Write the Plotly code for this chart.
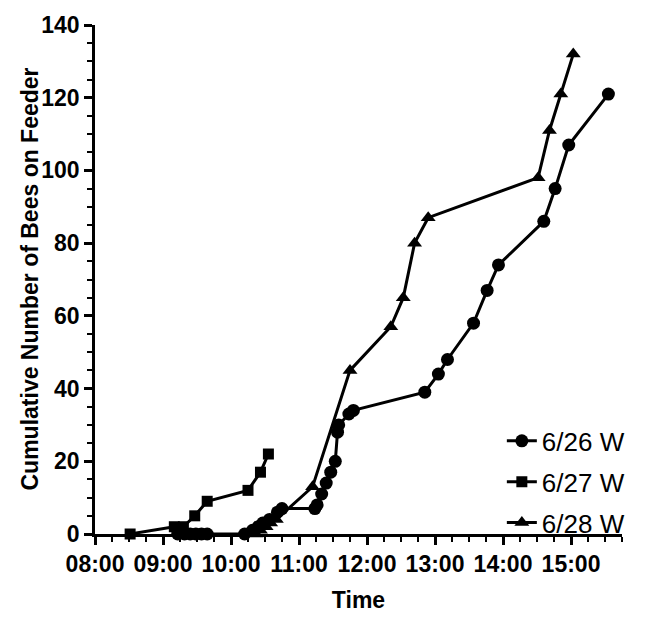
import plotly.graph_objects as go

# ---- data (time of day, cumulative bees) ----
t_0626 = ["09:13", "09:19", "09:24", "09:29", "09:34", "09:39",
          "10:12", "10:19", "10:24", "10:28", "10:34", "10:41", "10:45",
          "11:14", "11:16", "11:20", "11:24", "11:28", "11:32", "11:34", "11:35",
          "11:44", "11:48", "12:51", "13:03", "13:11", "13:34", "13:46", "13:56",
          "14:36", "14:46", "14:58", "15:33"]
v_0626 = [0, 0, 0, 0, 0, 0,
          0, 1, 2, 3, 4, 6, 7,
          7, 8, 11, 14, 17, 20, 28, 30,
          33, 34, 39, 44, 48, 58, 67, 74,
          86, 95, 107, 121]

t_0627 = ["08:31", "09:10", "09:18", "09:28", "09:39", "10:15", "10:26", "10:33"]
v_0627 = [0, 2, 2, 5, 9, 12, 17, 22]

t_0628 = ["10:22", "10:26", "10:31", "10:35", "10:40", "11:12", "11:45", "12:21",
          "12:32", "12:42", "12:54", "14:31", "14:41", "14:51", "15:02"]
v_0628 = [0, 1, 2, 3, 4, 13, 45, 57, 65, 80, 87, 98, 111, 121, 132]

series_names = ["6/26 W", "6/27 W", "6/28 W"]
tick_hours = [8, 9, 10, 11, 12, 13, 14, 15]
tick_labels = ["08:00", "09:00", "10:00", "11:00", "12:00", "13:00", "14:00", "15:00"]


def to_hours(t):
    h, m = t.split(":")
    return int(h) + int(m) / 60.0


FONT = "Liberation Sans, Arial, sans-serif"

fig = go.Figure()
specs = [
    (t_0626, v_0626, "circle", 13),
    (t_0627, v_0627, "square", 11),
    (t_0628, v_0628, "triangle-up", 13),
]
for i, (ts, vs, sym, sz) in enumerate(specs):
    fig.add_trace(go.Scatter(
        x=[to_hours(t) for t in ts], y=vs,
        mode="lines+markers",
        name=series_names[i],
        legendgroup=series_names[i],
        line=dict(color="black", width=3),
        marker=dict(symbol=sym, size=sz, color="black"),
        cliponaxis=False,
    ))

L, R, T, B = 95, 23, 14, 64
plot_w = 645 - L - R

fig.update_layout(
    width=645, height=621,
    margin=dict(l=L, r=R, t=T, b=B),
    paper_bgcolor="white", plot_bgcolor="white",
    font=dict(family=FONT, color="black"),
    showlegend=True,
    legend=dict(
        x=0.772, y=0.229, xanchor="left", yanchor="top",
        font=dict(family=FONT, size=26, color="black"),
        bgcolor="rgba(0,0,0,0)", tracegroupgap=4,
    ),
    annotations=[dict(
        text="Cumulative Number of Bees on Feeder",
        xref="paper", yref="paper",
        x=(29 - L) / plot_w, y=0.5, xanchor="center", yanchor="middle",
        textangle=-90, showarrow=False,
        font=dict(family=FONT, size=23, weight="bold", color="black"),
    )],
)

fig.update_xaxes(
    range=[8, 15.75],
    tickmode="array", tickvals=tick_hours, ticktext=tick_labels,
    showline=True, linecolor="black", linewidth=2.5,
    ticks="outside", ticklen=8, tickwidth=2.5, tickcolor="black",
    minor=dict(dtick=0.25, tick0=8, ticks="outside", ticklen=5, tickwidth=2, tickcolor="black", showgrid=False),
    showgrid=False, zeroline=False,
    tickfont=dict(family=FONT, size=23, weight="bold"),
    title=dict(text="Time", font=dict(family=FONT, size=23, weight="bold"), standoff=16),
)
fig.update_yaxes(
    range=[0, 140], dtick=20, tick0=0,
    showline=True, linecolor="black", linewidth=2.5,
    ticks="outside", ticklen=8, tickwidth=2.5, tickcolor="black",
    minor=dict(dtick=5, ticks="outside", ticklen=5, tickwidth=2, tickcolor="black", showgrid=False),
    showgrid=False, zeroline=False,
    ticklabeloverflow="allow",
    tickfont=dict(family=FONT, size=23, weight="bold"),
)

fig.write_html("out.html")
